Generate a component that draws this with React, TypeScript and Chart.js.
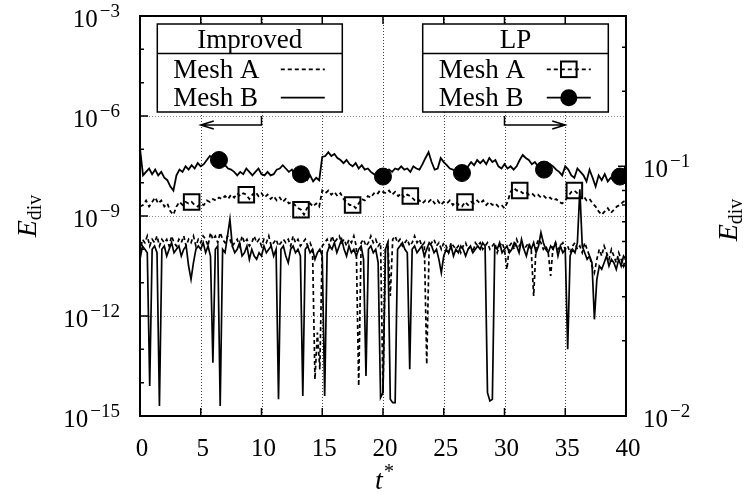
import { useEffect, useRef } from "react";
import { Chart, registerables } from "chart.js";

Chart.register(...registerables);

// ---------- axes ----------
const xTicks = [0, 5, 10, 15, 20, 25, 30, 35, 40];
const xGridT = [5, 10, 15, 20, 25, 30, 35];
const leftMin = 1e-15;
const leftMax = 1e-3;
const leftDecadeExps = [-15, -14, -13, -12, -11, -10, -9, -8, -7, -6, -5, -4, -3];
const leftLabelExps = [-15, -12, -9, -6, -3];
const leftGridExps = [-12, -9, -6];
const rightMin = 0.01;
const rightMax = 0.4;
const rightMajorTicks = [0.01, 0.1];
const rightMinorTicks = [0.02, 0.03, 0.04, 0.05, 0.06, 0.07, 0.08, 0.09, 0.2, 0.3, 0.4];
const rightLabelExps = [-2, -1];

// ---------- data ----------
// "Improved" series: log10(E_div) sampled every 0.2 of t*
const improvedStep = 0.2;
const improvedMeshALog = [
  -10.1, -9.7, -9.8, -9.6, -9.9, -9.7, -9.8, -9.6, -9.9, -9.7,
  -9.8, -9.7, -9.9, -9.6, -9.8, -9.9, -9.7, -9.8, -9.6, -9.9,
  -9.7, -9.8, -9.6, -9.9, -9.7, -9.8, -9.6, -9.7, -9.9, -9.5,
  -9.7, -9.6, -9.8, -9.5, -9.7, -9.8, -9.6, -9.7, -9.9, -9.8,
  -9.7, -9.9, -9.6, -9.8, -9.7, -9.9, -9.8, -9.6, -9.8, -9.7,
  -9.9, -9.7, -9.8, -9.6, -9.9, -9.8, -9.7, -9.9, -9.8, -9.7,
  -9.8, -9.7, -9.9, -9.6, -9.8, -9.7, -9.9, -9.8, -9.7, -9.9,
  -9.8, -10.0, -13.9, -12.5, -13.6, -9.9, -9.8, -9.7, -9.9, -9.6,
  -9.8, -9.7, -9.6, -9.8, -9.7, -9.9, -9.7, -9.8, -9.6, -9.9,
  -14.1, -9.8, -9.7, -9.9, -9.8, -9.6, -9.8, -9.7, -9.9, -9.8,
  -14.3, -10.0, -9.8, -11.4, -9.7, -9.6, -9.8, -9.7, -9.9, -9.8,
  -9.7, -9.9, -9.8, -9.6, -9.8, -9.7, -9.9, -9.8, -13.45, -9.9,
  -9.8, -9.7, -9.9, -9.8, -10.0, -9.8, -9.9, -10.1, -9.8, -9.9,
  -10.0, -9.9, -10.1, -9.9, -9.8, -10.0, -9.9, -10.1, -9.8, -9.9,
  -9.8, -10.0, -9.9, -9.8, -10.0, -9.9, -9.8, -10.1, -9.9, -9.8,
  -10.0, -10.6, -9.9, -9.8, -10.0, -9.7, -9.9, -9.8, -10.0, -9.9,
  -9.8, -10.0, -11.4, -9.9, -9.7, -9.8, -10.0, -9.9, -10.1, -10.8,
  -9.9, -9.8, -10.0, -9.9, -9.8, -10.0, -9.9, -10.1, -9.9, -9.8,
  -10.0, -9.9, -10.1, -9.8, -10.0, -10.2, -10.5, -10.7, -10.3, -10.0,
  -10.2, -9.9, -10.1, -10.3, -10.0, -10.2, -10.4, -10.1, -10.3, -10.5, -10.2,
];
const improvedMeshBLog = [
  -10.3, -9.9, -10.0, -10.1, -14.1, -10.0, -9.9, -10.1, -14.7, -10.0,
  -9.9, -10.2, -10.0, -9.8, -10.1, -10.0, -9.9, -10.2, -10.0, -9.9,
  -10.5, -10.9, -10.4, -10.0, -9.9, -10.0, -9.8, -10.1, -9.9, -10.2,
  -13.4, -10.0, -9.9, -14.7, -10.0, -10.1, -9.6, -9.1, -9.9, -10.1,
  -10.0, -9.8, -10.2, -10.1, -9.9, -10.3, -10.0, -10.2, -10.3, -10.1,
  -10.2, -9.9, -10.1, -10.0, -9.9, -10.2, -10.0, -14.5, -10.0, -9.9,
  -10.2, -10.4, -10.0, -9.9, -10.1, -10.0, -10.2, -14.4, -10.0, -9.9,
  -10.1, -10.0, -10.3, -10.1, -10.0, -10.2, -14.4, -10.1, -9.9, -10.0,
  -9.8, -10.1, -9.9, -9.7, -10.0, -10.2, -9.9, -10.1, -10.0, -10.2,
  -10.0, -9.9, -10.3, -13.8, -10.0, -9.9, -10.1, -10.0, -10.4, -14.45,
  -14.3, -10.0, -9.8, -14.5, -14.6, -14.6, -10.0, -9.9, -9.8, -10.0,
  -10.1, -13.6, -10.0, -9.9, -10.1, -10.0, -9.9, -10.2, -10.0, -9.8,
  -9.9, -10.1, -10.0, -10.3, -10.7, -10.2, -10.0, -10.1, -9.9, -10.2,
  -10.0, -10.1, -9.9, -10.0, -10.2, -10.0, -9.9, -10.1, -10.0, -9.9,
  -10.0, -9.8, -9.9, -14.3, -14.55, -14.5, -9.9, -10.0, -9.8, -10.1,
  -10.0, -9.9, -10.1, -10.0, -9.8, -9.9, -10.1, -9.7, -10.0, -10.2,
  -9.9, -10.0, -9.8, -10.1, -9.9, -9.5, -9.8, -10.0, -10.1, -9.9,
  -10.0, -9.8, -10.2, -9.9, -10.1, -10.0, -13.0, -10.2, -10.0, -10.1,
  -9.8, -8.2, -9.9, -10.1, -10.3, -10.2, -10.4, -12.1, -10.9, -10.5,
  -10.6, -10.4, -10.2, -10.5, -10.3, -10.4, -10.6, -10.3, -10.5, -10.2, -10.3,
];

// "LP" series (right axis): E_div sampled every 0.25 of t*
const lpStep = 0.25;
const lpMeshA = [
  0.069, 0.070, 0.073, 0.069, 0.072, 0.075, 0.071, 0.073, 0.069,
  0.071, 0.066, 0.064, 0.069, 0.072, 0.070, 0.072, 0.071,
  0.072, 0.070, 0.069, 0.071, 0.070, 0.073, 0.072, 0.074,
  0.073, 0.075, 0.074, 0.076, 0.074, 0.077, 0.075, 0.078,
  0.076, 0.078, 0.077, 0.074, 0.077, 0.079, 0.076, 0.078,
  0.075, 0.077, 0.074, 0.076, 0.073, 0.075, 0.072, 0.074,
  0.071, 0.072, 0.070, 0.068, 0.067, 0.064, 0.068, 0.071,
  0.069, 0.071, 0.069, 0.080, 0.078, 0.080, 0.077, 0.079,
  0.076, 0.078, 0.074, 0.072, 0.070, 0.070, 0.068, 0.071,
  0.074, 0.073, 0.076, 0.075, 0.078, 0.077, 0.080, 0.079,
  0.078, 0.080, 0.077, 0.079, 0.076, 0.078, 0.075, 0.077,
  0.076, 0.074, 0.072, 0.073, 0.071, 0.073, 0.072, 0.074,
  0.071, 0.073, 0.070, 0.072, 0.071, 0.073, 0.070, 0.072,
  0.070, 0.069, 0.072, 0.070, 0.072, 0.071, 0.073, 0.071,
  0.073, 0.070, 0.072, 0.070, 0.071, 0.069, 0.070, 0.068,
  0.072, 0.079, 0.082, 0.080, 0.080, 0.078, 0.079, 0.077,
  0.078, 0.076, 0.077, 0.075, 0.076, 0.074, 0.075, 0.073,
  0.074, 0.072, 0.071, 0.073, 0.076, 0.079, 0.080, 0.078,
  0.075, 0.076, 0.073, 0.074, 0.071, 0.069, 0.066, 0.064,
  0.066, 0.068, 0.065, 0.067, 0.069, 0.070, 0.072, 0.073,
];
const lpMeshB = [
  0.118, 0.092, 0.095, 0.098, 0.093, 0.097, 0.092, 0.095, 0.090,
  0.088, 0.083, 0.080, 0.092, 0.097, 0.095, 0.100, 0.097,
  0.101, 0.098, 0.103, 0.100, 0.102, 0.106, 0.110, 0.108,
  0.112, 0.106, 0.104, 0.101, 0.098, 0.097, 0.095, 0.092,
  0.095, 0.093, 0.098, 0.095, 0.092, 0.095, 0.098, 0.093,
  0.092, 0.095, 0.092, 0.093, 0.097, 0.098, 0.101, 0.098,
  0.095, 0.097, 0.092, 0.095, 0.093, 0.090, 0.088, 0.092,
  0.087, 0.090, 0.088, 0.109, 0.110, 0.114, 0.110, 0.112,
  0.108, 0.106, 0.103, 0.106, 0.102, 0.100, 0.103, 0.098,
  0.101, 0.097, 0.098, 0.095, 0.093, 0.092, 0.092, 0.091,
  0.093, 0.097, 0.095, 0.098, 0.097, 0.100, 0.097, 0.098,
  0.095, 0.100, 0.098, 0.097, 0.102, 0.108, 0.114, 0.104,
  0.097, 0.098, 0.108, 0.104, 0.101, 0.098, 0.097, 0.095,
  0.093, 0.094, 0.097, 0.100, 0.104, 0.101, 0.106, 0.103,
  0.106, 0.102, 0.108, 0.104, 0.106, 0.100, 0.098, 0.102,
  0.098, 0.100, 0.097, 0.100, 0.106, 0.111, 0.108, 0.106,
  0.102, 0.104, 0.100, 0.098, 0.097, 0.098, 0.102, 0.100,
  0.097, 0.095, 0.092, 0.100, 0.097, 0.092, 0.090, 0.098,
  0.095, 0.092, 0.087, 0.097, 0.090, 0.083, 0.092, 0.088,
  0.093, 0.087, 0.090, 0.088, 0.092, 0.091, 0.095, 0.101,
];
const lpMeshAMarkerT = [4.25, 8.75, 13.25, 17.5, 22.25, 26.75, 31.25, 35.75];
const lpMeshBMarkerT = [6.5, 13.25, 20, 26.5, 33.25, 39.5];

// annotation arrows (t* from -> to, at E_div levels)
const arrowFromT = [10, 30];
const arrowToT = [5, 35];
const arrowTopValue = 1e-6;
const arrowLevelValue = 5.4e-7;

const legendImprovedTitle = "Improved";
const legendLPTitle = "LP";
const legendRows = ["Mesh A", "Mesh B"];

// ---------- styling ----------
const SERIF = '"Liberation Serif", "DejaVu Serif", serif';
const MAIN_FONT = `25px ${SERIF}`;
const SUP_FONT = `19px ${SERIF}`;
const LEGEND_FONT = `27px ${SERIF}`;

const round2 = (v: number) => Math.round(v * 100) / 100;

function drawPow(ctx: CanvasRenderingContext2D, exp: number, x: number, baseline: number, align: "left" | "right") {
  ctx.font = MAIN_FONT;
  const w1 = ctx.measureText("10").width;
  const sup = "\u2212" + Math.abs(exp);
  ctx.font = SUP_FONT;
  const w2 = ctx.measureText(sup).width;
  const total = w1 + 2 + w2;
  const sx = align === "right" ? x - total : x;
  ctx.textAlign = "left";
  ctx.textBaseline = "alphabetic";
  ctx.font = MAIN_FONT;
  ctx.fillText("10", sx, baseline);
  ctx.font = SUP_FONT;
  ctx.fillText(sup, sx + w1 + 2, baseline - 10);
}

function drawEdiv(ctx: CanvasRenderingContext2D, cx: number, cy: number) {
  ctx.save();
  ctx.translate(cx, cy);
  ctx.rotate(-Math.PI / 2);
  ctx.textAlign = "left";
  ctx.textBaseline = "alphabetic";
  ctx.font = `italic 28px ${SERIF}`;
  const wE = ctx.measureText("E").width;
  ctx.font = `20px ${SERIF}`;
  const wd = ctx.measureText("div").width;
  const start = -(wE + wd) / 2;
  ctx.font = `italic 28px ${SERIF}`;
  ctx.fillText("E", start, 0);
  ctx.font = `20px ${SERIF}`;
  ctx.fillText("div", start + wE, 5);
  ctx.restore();
}

const decorPlugin = {
  id: "decor",
  beforeDatasetsDraw(chart: any) {
    const { ctx, chartArea: a, scales } = chart;
    ctx.save();
    ctx.lineWidth = 1;
    ctx.setLineDash([1, 2]);
    ctx.strokeStyle = "#444";
    ctx.beginPath();
    for (const t of xGridT) {
      const px = Math.round(scales.x.getPixelForValue(t)) + 0.5;
      ctx.moveTo(px, a.top);
      ctx.lineTo(px, a.bottom);
    }
    ctx.stroke();
    ctx.strokeStyle = "#8a8a8a";
    ctx.beginPath();
    for (const e of leftGridExps) {
      const py = Math.round(scales.y.getPixelForValue(Math.pow(10, e))) + 0.5;
      ctx.moveTo(a.left, py);
      ctx.lineTo(a.right, py);
    }
    ctx.stroke();
    ctx.restore();
  },
  afterDatasetsDraw(chart: any) {
    const { ctx, chartArea: a, scales } = chart;
    const xs = scales.x, ys = scales.y, ys2 = scales.y2;
    ctx.save();
    ctx.setLineDash([]);
    ctx.strokeStyle = "#000";
    ctx.fillStyle = "#000";

    // arrows
    ctx.lineWidth = 1.5;
    ctx.beginPath();
    for (let i = 0; i < arrowFromT.length; i++) {
      const x0 = xs.getPixelForValue(arrowFromT[i]);
      const x1 = xs.getPixelForValue(arrowToT[i]);
      const yTop = ys.getPixelForValue(arrowTopValue);
      const yA = ys.getPixelForValue(arrowLevelValue);
      const dir = Math.sign(x1 - x0);
      ctx.moveTo(x0, yTop);
      ctx.lineTo(x0, yA);
      ctx.lineTo(x1, yA);
      ctx.moveTo(x1 - dir * 13, yA - 4);
      ctx.lineTo(x1, yA);
      ctx.lineTo(x1 - dir * 13, yA + 4);
    }
    ctx.stroke();

    // tick marks
    ctx.lineWidth = 1.5;
    ctx.beginPath();
    for (const t of xTicks) {
      const px = xs.getPixelForValue(t);
      ctx.moveTo(px, a.bottom);
      ctx.lineTo(px, a.bottom - 8);
      ctx.moveTo(px, a.top);
      ctx.lineTo(px, a.top + 8);
    }
    for (const e of leftDecadeExps) {
      const py = ys.getPixelForValue(Math.pow(10, e));
      const len = leftLabelExps.includes(e) ? 8 : 4;
      ctx.moveTo(a.left, py);
      ctx.lineTo(a.left + len, py);
    }
    for (const v of rightMajorTicks) {
      const py = ys2.getPixelForValue(v);
      ctx.moveTo(a.right, py);
      ctx.lineTo(a.right - 8, py);
    }
    for (const v of rightMinorTicks) {
      const py = ys2.getPixelForValue(v);
      ctx.moveTo(a.right, py);
      ctx.lineTo(a.right - 4, py);
    }
    ctx.stroke();

    // frame
    ctx.lineWidth = 2;
    ctx.strokeRect(a.left, a.top, a.right - a.left, a.bottom - a.top);

    // tick labels
    ctx.font = MAIN_FONT;
    ctx.textAlign = "center";
    ctx.textBaseline = "alphabetic";
    for (const t of xTicks) {
      ctx.fillText(String(t), xs.getPixelForValue(t) + 2, a.bottom + 40);
    }
    for (const e of leftLabelExps) {
      drawPow(ctx, e, a.left - 20, ys.getPixelForValue(Math.pow(10, e)) + 10.5, "right");
    }
    for (const e of rightLabelExps) {
      drawPow(ctx, e, a.right + 17, ys2.getPixelForValue(Math.pow(10, e)) + 10.5, "left");
    }

    // axis titles
    ctx.font = `italic 28px ${SERIF}`;
    ctx.textAlign = "left";
    const cx = (a.left + a.right) / 2;
    const wt = ctx.measureText("t").width;
    ctx.fillText("t", cx - wt / 2 - 4, a.bottom + 73);
    ctx.font = `20px ${SERIF}`;
    ctx.fillText("*", cx + wt / 2 - 3, a.bottom + 62);
    drawEdiv(ctx, 36, (a.top + a.bottom) / 2);
    drawEdiv(ctx, 737, (a.top + a.bottom) / 2 + 4);

    // legends
    const drawLegend = (left: number, right: number, title: string, lp: boolean) => {
      const top = a.top + 8;
      const bottom = a.top + 96;
      const div = a.top + 37.5;
      ctx.fillStyle = "#fff";
      ctx.fillRect(left, top, right - left, bottom - top);
      ctx.fillStyle = "#000";
      ctx.lineWidth = 1.5;
      ctx.setLineDash([]);
      ctx.strokeRect(left, top, right - left, bottom - top);
      ctx.beginPath();
      ctx.moveTo(left, div);
      ctx.lineTo(right, div);
      ctx.stroke();
      ctx.font = LEGEND_FONT;
      ctx.textAlign = "center";
      ctx.fillText(title, (left + right) / 2, a.top + 32);
      ctx.textAlign = "left";
      const rowBase = [a.top + 61.5, a.top + 90];
      const rowLine = [a.top + 53.3, a.top + 81.7];
      const sx0 = right - 61.5;
      const sx1 = right - 17.5;
      const mx = (sx0 + sx1) / 2;
      for (let i = 0; i < legendRows.length; i++) {
        ctx.fillText(legendRows[i], left + 16, rowBase[i]);
        ctx.lineWidth = 1.8;
        ctx.setLineDash(i === 0 ? [4, 3] : []);
        ctx.beginPath();
        ctx.moveTo(sx0, rowLine[i]);
        ctx.lineTo(sx1, rowLine[i]);
        ctx.stroke();
        ctx.setLineDash([]);
        if (lp) {
          ctx.lineWidth = 2;
          if (i === 0) {
            ctx.strokeRect(mx - 7.8, rowLine[i] - 7.8, 15.6, 15.6);
          } else {
            ctx.beginPath();
            ctx.arc(mx, rowLine[i], 8.5, 0, Math.PI * 2);
            ctx.fill();
          }
        }
      }
    };
    drawLegend(a.left + 17.3, a.left + 202.3, legendImprovedTitle, false);
    drawLegend(a.left + 282.7, a.left + 468.3, legendLPTitle, true);

    ctx.restore();
  },
};

export default function App() {
  const canvasRef = useRef<HTMLCanvasElement | null>(null);

  useEffect(() => {
    const canvas = canvasRef.current;
    if (!canvas) return;

    const impA = improvedMeshALog.map((v, i) => ({ x: round2(i * improvedStep), y: Math.pow(10, v) }));
    const impB = improvedMeshBLog.map((v, i) => ({ x: round2(i * improvedStep), y: Math.pow(10, v) }));
    const lpA = lpMeshA.map((v, i) => ({ x: round2(i * lpStep), y: v }));
    const lpB = lpMeshB.map((v, i) => ({ x: round2(i * lpStep), y: v }));
    const radA = lpA.map((p) => (lpMeshAMarkerT.includes(p.x) ? 11 : 0));
    const radB = lpB.map((p) => (lpMeshBMarkerT.includes(p.x) ? 8.5 : 0));

    const chart = new Chart(canvas, {
      type: "line",
      data: {
        datasets: [
          {
            label: "LP Mesh B",
            data: lpB,
            yAxisID: "y2",
            borderColor: "#000",
            borderWidth: 1.8,
            pointStyle: "circle",
            pointRadius: radB,
            pointBackgroundColor: "#000",
            pointBorderColor: "#000",
            pointBorderWidth: 1,
            tension: 0,
            fill: false,
          },
          {
            label: "LP Mesh A",
            data: lpA,
            yAxisID: "y2",
            borderColor: "#000",
            borderWidth: 1.8,
            borderDash: [4, 3],
            pointStyle: "rect",
            pointRadius: radA,
            pointBackgroundColor: "rgba(0,0,0,0)",
            pointBorderColor: "#000",
            pointBorderWidth: 2,
            tension: 0,
            fill: false,
          },
          {
            label: "Improved Mesh B",
            data: impB,
            yAxisID: "y",
            borderColor: "#000",
            borderWidth: 1.7,
            pointRadius: 0,
            tension: 0,
            fill: false,
          },
          {
            label: "Improved Mesh A",
            data: impA,
            yAxisID: "y",
            borderColor: "#000",
            borderWidth: 1.7,
            borderDash: [4, 3],
            pointRadius: 0,
            tension: 0,
            fill: false,
          },
        ],
      },
      options: {
        animation: false,
        responsive: false,
        devicePixelRatio: 1,
        events: [],
        layout: { padding: { left: 140, top: 16, right: 119, bottom: 87 } },
        plugins: { legend: { display: false }, tooltip: { enabled: false } },
        scales: {
          x: { type: "linear", min: 0, max: 40, display: false },
          y: { type: "logarithmic", min: leftMin, max: leftMax, display: false },
          y2: { type: "logarithmic", min: rightMin, max: rightMax, display: false, position: "right" },
        },
      },
      plugins: [decorPlugin],
    } as any);

    return () => chart.destroy();
  }, []);

  return (
    <div style={{ position: "absolute", left: 0, top: 0, width: 745, height: 503, background: "#fff" }}>
      <canvas ref={canvasRef} width={745} height={503} />
    </div>
  );
}
